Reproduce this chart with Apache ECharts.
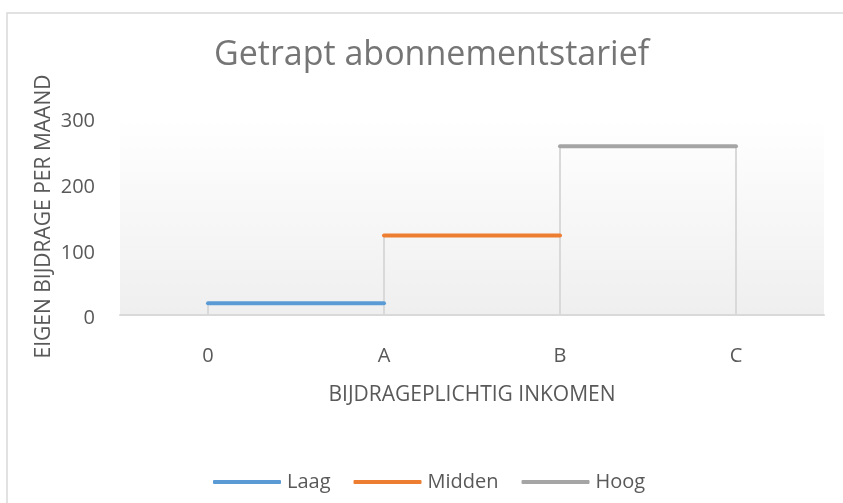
<!DOCTYPE html>
<html>
<head>
<meta charset="utf-8">
<script src="https://cdn.jsdelivr.net/npm/echarts@6/dist/echarts.min.js"></script>
<style>
  html, body { margin: 0; padding: 0; background: #fff; }
  #chart { width: 843px; height: 503px; }
</style>
</head>
<body>
<div id="chart"></div>
<script>
const categories = ['0', 'A', 'B', 'C'];
const laag = [18, 18, null, null];
const midden = [null, 121, 121, null];
const hoog = [null, null, 257, 257];
const yTicks = [0, 100, 200, 300];

const tekst = '#595959';
const font = '"Open Sans", sans-serif';

// hoogste punt per categorie, voor de verticale hulplijnen
const dropLines = categories.map((c, i) => {
    const vals = [laag[i], midden[i], hoog[i]].filter(v => v != null);
    return [i, vals.length ? Math.max(...vals) : 0];
});

const chart = echarts.init(document.getElementById('chart'));

function reeks(naam, data, kleur) {
    return {
        name: naam,
        type: 'line',
        data: data,
        symbol: 'none',
        connectNulls: false,
        z: 3,
        lineStyle: { color: kleur, width: 4, cap: 'round' },
        itemStyle: { color: kleur }
    };
}

chart.setOption({
    animation: false,
    textStyle: { fontFamily: font },
    graphic: [{
        type: 'rect',
        shape: { x: 7, y: 13, width: 900, height: 600 },
        style: { fill: 'none', stroke: '#d9d9d9', lineWidth: 1.5 },
        silent: true
    }],
    title: {
        text: 'Getrapt abonnementstarief',
        left: 209,
        top: 33,
        textStyle: { color: '#757575', fontSize: 34, fontWeight: 'normal', fontFamily: font }
    },
    legend: {
        data: ['Laag', 'Midden', 'Hoog'],
        icon: 'roundRect',
        bottom: 6,
        left: 208,
        itemWidth: 68,
        itemHeight: 4,
        itemGap: 23,
        textStyle: { color: tekst, fontSize: 20, fontFamily: font, padding: [0, 0, 0, 1] }
    },
    grid: {
        left: 120,
        right: 19,
        top: 118,
        bottom: 188,
        show: true,
        borderWidth: 0,
        backgroundColor: new echarts.graphic.LinearGradient(0, 0, 0, 1, [
            { offset: 0, color: '#ffffff' },
            { offset: 1, color: '#efefef' }
        ])
    },
    xAxis: {
        type: 'category',
        data: categories,
        boundaryGap: true,
        name: 'BIJDRAGEPLICHTIG INKOMEN',
        nameLocation: 'middle',
        nameGap: 70,
        nameMoveOverlap: false,
        nameTextStyle: { color: tekst, fontSize: 21, fontFamily: font },
        axisLine: { lineStyle: { color: '#d9d9d9', width: 2 } },
        axisTick: { show: false },
        axisLabel: { color: tekst, fontSize: 20, margin: 31, fontFamily: font },
        splitLine: { show: false }
    },
    yAxis: {
        type: 'value',
        min: yTicks[0],
        max: yTicks[yTicks.length - 1],
        interval: yTicks[1] - yTicks[0],
        name: 'EIGEN BIJDRAGE PER MAAND',
        nameLocation: 'middle',
        nameGap: 65,
        nameMoveOverlap: false,
        nameTextStyle: { color: tekst, fontSize: 21, fontFamily: font },
        axisLine: { show: false },
        axisTick: { show: false },
        splitLine: { show: false },
        axisLabel: { color: tekst, fontSize: 20, margin: 25, fontFamily: font, verticalAlign: 'top', lineHeight: 7 }
    },
    series: [
        {
            name: 'hulplijnen',
            type: 'custom',
            data: dropLines,
            z: 2,
            silent: true,
            renderItem: (params, api) => {
                const onder = api.coord([api.value(0), 0]);
                const boven = api.coord([api.value(0), api.value(1)]);
                return {
                    type: 'line',
                    shape: { x1: onder[0], y1: onder[1], x2: boven[0], y2: boven[1] },
                    style: { stroke: '#d9d9d9', lineWidth: 2 }
                };
            }
        },
        reeks('Laag', laag, '#5b9bd5'),
        reeks('Midden', midden, '#ed7d31'),
        reeks('Hoog', hoog, '#a5a5a5')
    ]
});
</script>
</body>
</html>
